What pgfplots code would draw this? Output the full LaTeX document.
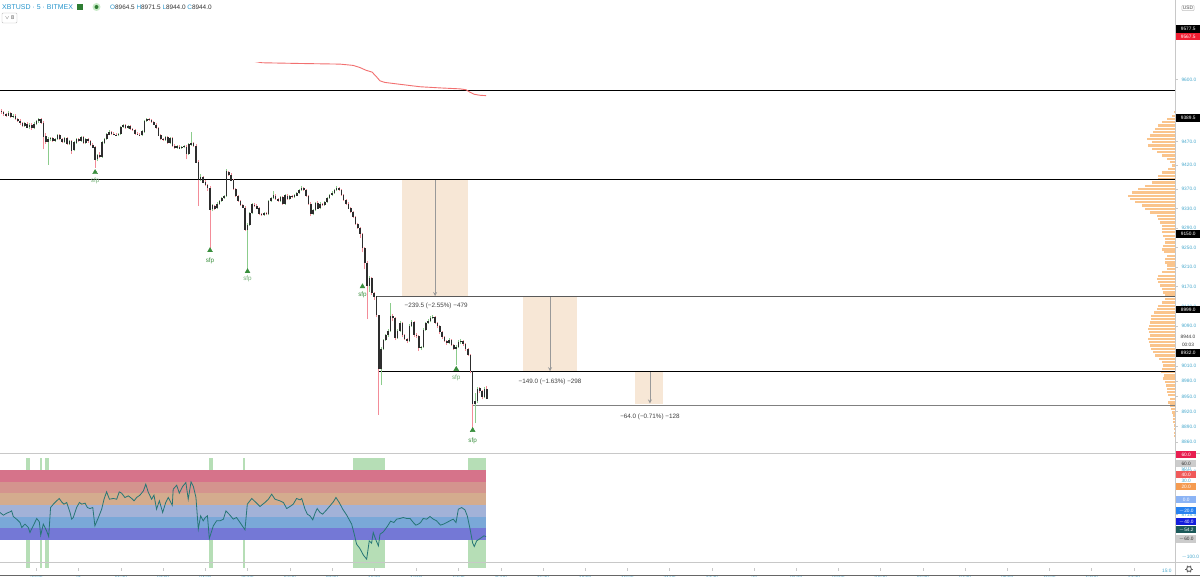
\documentclass[border=0pt]{standalone}
\usepackage{pgfplots}
\pgfplotsset{compat=1.18}
\usepackage{pgfplotstable}
\usepackage{fontspec}
\setmainfont{Liberation Sans}
\definecolor{tickc}{RGB}{70,168,205}
\definecolor{hdr}{RGB}{40,150,205}
\definecolor{wickr}{RGB}{243,140,152}
\definecolor{wickg}{RGB}{140,204,140}
\definecolor{bodyc}{RGB}{45,45,45}
\definecolor{sfpg}{RGB}{56,142,60}
\definecolor{boxc}{RGB}{247,231,214}
\definecolor{vpf}{RGB}{250,196,140}
\definecolor{vpd}{RGB}{246,172,104}
\definecolor{mac}{RGB}{242,112,112}
\definecolor{bA}{RGB}{214,115,138}
\definecolor{bB}{RGB}{212,148,142}
\definecolor{bC}{RGB}{212,172,142}
\definecolor{bD}{RGB}{162,178,216}
\definecolor{bE}{RGB}{122,168,216}
\definecolor{bF}{RGB}{116,120,214}
\definecolor{grn}{RGB}{182,222,182}
\definecolor{oscl}{RGB}{38,118,118}
\definecolor{sep}{RGB}{200,200,200}
\definecolor{dgreen}{RGB}{46,125,50}
\definecolor{lgreen}{RGB}{200,235,200}
\definecolor{lred}{RGB}{240,30,50}
\definecolor{oA}{RGB}{232,30,80}
\definecolor{oB}{RGB}{240,90,90}
\definecolor{oC}{RGB}{245,155,80}
\definecolor{oD}{RGB}{140,180,245}
\definecolor{oE}{RGB}{40,130,240}
\definecolor{oF}{RGB}{20,30,220}
\definecolor{oG}{RGB}{28,90,90}
\newcommand\tk{\fontsize{4.8}{5.5}\selectfont}
\newcommand\mk{\fontsize{6.3}{7}\selectfont}

\pgfplotsset{
  upc/.style={restrict expr to domain={\thisrow{c}-\thisrow{o}}{0:10000}},
  dnc/.style={restrict expr to domain={\thisrow{c}-\thisrow{o}}{-10000:-0.01}},
  pricey/.style={y coord trafo/.code={\pgfmathparse{(ln(##1)-9.1)*9150}},
                 y coord inv trafo/.code={\pgfmathparse{exp(##1/9150+9.1)}}},
}

\pgfplotstableread{
i o h l c
-15 9534 9537 9528 9531
-14 9531 9534 9524 9527
-13 9527 9530 9521 9524
-12 9524 9532 9522 9529
-11 9529 9531 9519 9521
-10 9521 9527 9518 9524
-9 9524 9526 9514 9517
-8 9517 9519 9510 9513
-7 9513 9516 9505 9508
-6 9508 9510 9500 9502
-5 9502 9510 9500 9507
-4 9507 9509 9497 9499
-3 9499 9507 9496 9505
-2 9505 9507 9494 9497
-1 9497 9509 9495 9506
0 9506 9514 9503 9512
1 9512 9519 9509 9516
2 9516 9518 9506 9509
3 9509 9511 9453 9481
4 9481 9486 9465 9468
5 9468 9478 9421 9474
6 9474 9479 9470 9476
7 9476 9478 9468 9471
8 9471 9477 9469 9475
9 9475 9484 9473 9482
10 9482 9484 9472 9474
11 9474 9476 9466 9469
12 9469 9478 9467 9476
13 9476 9478 9463 9465
14 9465 9472 9462 9470
15 9470 9472 9444 9451
16 9451 9470 9449 9467
17 9467 9476 9465 9474
18 9474 9476 9468 9471
19 9471 9480 9469 9478
20 9478 9480 9464 9466
21 9466 9476 9464 9474
22 9474 9477 9467 9470
23 9470 9472 9461 9463
24 9463 9465 9455 9457
25 9457 9459 9415 9432
26 9432 9443 9428 9440
27 9440 9446 9434 9437
28 9437 9470 9435 9467
29 9467 9477 9465 9475
30 9475 9486 9473 9484
31 9484 9492 9482 9490
32 9490 9492 9484 9486
33 9486 9489 9482 9484
34 9484 9486 9480 9482
35 9482 9487 9480 9485
36 9485 9502 9483 9500
37 9500 9506 9498 9503
38 9503 9505 9496 9498
39 9498 9504 9496 9502
40 9502 9504 9494 9496
41 9496 9498 9491 9493
42 9493 9495 9484 9486
43 9486 9488 9482 9484
44 9484 9486 9480 9482
45 9482 9492 9480 9490
46 9490 9514 9488 9512
47 9512 9519 9510 9516
48 9516 9518 9512 9514
49 9514 9516 9508 9510
50 9510 9512 9503 9505
51 9505 9507 9496 9498
52 9498 9500 9480 9482
53 9482 9484 9472 9474
54 9474 9476 9470 9472
55 9472 9481 9470 9478
56 9478 9480 9464 9466
57 9466 9478 9464 9476
58 9476 9478 9459 9461
59 9461 9463 9454 9456
60 9456 9461 9454 9459
61 9459 9461 9453 9455
62 9455 9459 9453 9457
63 9457 9461 9455 9459
64 9459 9461 9432 9443
65 9443 9465 9441 9463
66 9463 9489 9461 9466
67 9466 9468 9458 9460
68 9460 9462 9424 9426
69 9426 9428 9336 9390
70 9390 9400 9386 9396
71 9396 9398 9382 9384
72 9384 9388 9376 9378
73 9378 9380 9366 9372
74 9372 9374 9246 9328
75 9328 9338 9324 9336
76 9336 9338 9326 9330
77 9330 9342 9328 9340
78 9340 9348 9338 9346
79 9346 9354 9344 9352
80 9352 9358 9350 9356
81 9356 9410 9354 9406
82 9406 9408 9398 9400
83 9400 9402 9386 9388
84 9388 9390 9368 9370
85 9370 9372 9354 9356
86 9356 9358 9344 9346
87 9346 9348 9336 9338
88 9338 9340 9330 9332
89 9332 9334 9284 9286
90 9286 9300 9203 9296
91 9296 9322 9294 9320
92 9320 9340 9318 9338
93 9338 9341 9333 9336
94 9336 9338 9328 9330
95 9330 9332 9316 9318
96 9318 9320 9314 9316
97 9316 9322 9314 9320
98 9320 9322 9316 9318
99 9318 9347 9316 9345
100 9345 9354 9343 9352
101 9352 9366 9350 9357
102 9357 9359 9348 9350
103 9350 9352 9344 9346
104 9346 9355 9344 9353
105 9353 9355 9338 9340
106 9340 9359 9338 9357
107 9357 9359 9348 9350
108 9350 9357 9348 9355
109 9355 9357 9351 9353
110 9353 9359 9351 9357
111 9357 9364 9355 9362
112 9362 9370 9360 9368
113 9368 9376 9366 9372
114 9372 9374 9366 9368
115 9368 9370 9354 9356
116 9356 9358 9338 9340
117 9340 9342 9314 9318
118 9318 9328 9316 9326
119 9326 9344 9324 9342
120 9342 9344 9328 9330
121 9330 9342 9328 9340
122 9340 9342 9335 9337
123 9337 9345 9335 9343
124 9343 9354 9341 9352
125 9352 9360 9350 9358
126 9358 9365 9356 9363
127 9363 9370 9361 9368
128 9368 9376 9366 9372
129 9372 9374 9366 9368
130 9368 9370 9356 9358
131 9358 9360 9346 9348
132 9348 9350 9338 9340
133 9340 9342 9328 9330
134 9330 9332 9320 9322
135 9322 9324 9310 9312
136 9312 9314 9296 9298
137 9298 9300 9288 9290
138 9290 9292 9270 9278
139 9278 9280 9240 9248
140 9248 9250 9206 9218
141 9218 9222 9104 9172
142 9172 9192 9160 9188
143 9188 9190 9154 9158
144 9158 9160 9144 9150
145 9150 9152 9108 9112
146 9112 9114 8914 9004
147 9004 9050 8972 9045
148 9045 9064 9042 9062
149 9062 9075 9060 9072
150 9072 9084 9068 9080
151 9080 9138 9078 9110
152 9110 9114 9100 9106
153 9106 9108 9062 9066
154 9066 9084 9064 9080
155 9080 9100 9078 9096
156 9096 9098 9068 9072
157 9072 9074 9062 9064
158 9064 9066 9056 9060
159 9060 9094 9058 9090
160 9090 9102 9088 9098
161 9098 9100 9068 9072
162 9072 9076 9066 9070
163 9070 9072 9040 9046
164 9046 9050 9042 9048
165 9048 9086 9046 9082
166 9082 9098 9080 9096
167 9096 9104 9094 9100
168 9100 9110 9098 9106
169 9106 9112 9104 9108
170 9108 9110 9094 9096
171 9096 9098 9086 9090
172 9090 9092 9074 9078
173 9078 9080 9064 9068
174 9068 9070 9058 9060
175 9060 9062 9052 9056
176 9056 9066 9054 9062
177 9062 9064 9050 9052
178 9052 9054 9042 9044
179 9044 9052 9012 9048
180 9048 9062 9046 9058
181 9058 9064 9054 9060
182 9060 9062 9050 9054
183 9054 9056 9040 9044
184 9044 9046 9030 9032
185 9032 9034 8996 9000
186 9000 9002 8885 8934
187 8934 8958 8897 8940
188 8940 8970 8936 8966
189 8966 8968 8956 8960
190 8960 8962 8944 8948
191 8948 8968 8946 8964.5
192 8964.5 8971.5 8944 8944
}\candles

\pgfplotstableread{
p len
9532 0.7
9523 3.3
9516 8.3
9510 13.3
9503 16.7
9496 20
9489 21.7
9482 25
9475 28.3
9468 23.3
9461 26.7
9454 23.3
9447 18.3
9440 13.3
9433 8.3
9426 5
9419 3.3
9412 6.7
9405 13.3
9398 16.7
9391 16.7
9384 23.3
9377 30
9370 36.7
9363 43.3
9356 46.7
9349 45
9343 40
9336 33.3
9329 30
9322 25
9315 18.3
9308 16.7
9301 15
9294 13.3
9288 13.3
9281 13.3
9274 11.7
9267 10
9260 10
9253 11.7
9246 13.3
9240 10.7
9233 8.3
9226 10
9219 10
9213 8.3
9206 8.3
9199 13.3
9192 16.7
9185 18.3
9179 16.7
9172 15
9165 13.3
9158 11.7
9152 10
9145 10
9138 13.3
9131 16.7
9125 18.3
9118 21
9111 24
9104 24
9098 25
9091 26
9084 27
9078 26
9071 25
9064 27
9058 26
9051 25
9044 24
9038 22
9031 20
9024 16
9018 13
9011 12
9004 13
8998 14
8991 11
8985 12
8978 10
8971 9
8965 8
8958 8
8952 7
8945 5
8938 7
8932 5
8925 4
8918 3
8912 2.5
8905 2
8899 2
8892 1.5
8885 1
8878 1
8872 0.8
}\profile

\begin{document}
\begin{tikzpicture}[x=1pt,y=1pt]
\useasboundingbox (0,0) rectangle (1200,576);
\fill[white] (0,0) rectangle (1200,576);

% volume profile
\begin{axis}[at={(0,123)}, anchor=south west, scale only axis,
  width=1175pt, height=453pt, pricey, ymin=8717.4, ymax=9636.9,
  xmin=0, xmax=1175, x dir=reverse, hide axis, clip=true]
\addplot[draw=none, mark=none,
  error bars/.cd, x dir=plus, x explicit, error mark=none,
  error bar style={draw=vpf, line width=2.4pt}]
  table[x expr=0, y=p, x error plus=len] {\profile};
\end{axis}

% main price pane
\begin{axis}[at={(0,123)}, anchor=south west, scale only axis,
  width=1175pt, height=453pt, pricey, ymin=8717.4, ymax=9636.9,
  xmin=-15.565, xmax=485.5,
  axis line style={draw=none}, xtick=\empty,
  ytick={9600,9520,9470,9420,9370,9330,9290,9250,9210,9170,9130,9090,9050,9010,8980,8950,8920,8890,8860,8830,8802,8774.5,8746.5,8718.5},
  yticklabels={9600.0,9520.0,9470.0,9420.0,9370.0,9330.0,9290.0,9250.0,9210.0,9170.0,9130.0,9090.0,9050.0,9010.0,8980.0,8950.0,8920.0,8890.0,8860.0,8830.0,8802.0,8774.5,8746.5,8718.5},
  ytick pos=right, yticklabel pos=right, tick align=outside, major tick length=3pt,
  tick style={sep, line width=0.5pt},
  yticklabel style={font=\tk, text=tickc, xshift=0pt},
  clip=true]
% measure boxes
\fill[boxc] (axis cs:155.9,9389.5) rectangle (axis cs:184,9150);
\fill[boxc] (axis cs:207.5,9150) rectangle (axis cs:230.5,8999);
\fill[boxc] (axis cs:255.2,8999) rectangle (axis cs:267.2,8935);
\draw[gray!80, line width=0.8pt, -stealth] (axis cs:170,9389.5) -- (axis cs:170,9151);
\draw[gray!80, line width=0.8pt, -stealth] (axis cs:219,9150) -- (axis cs:219,9000);
\draw[gray!80, line width=0.8pt, -stealth] (axis cs:261.6,8999) -- (axis cs:261.6,8936);
% horizontal levels
\draw[black, line width=1.2pt] (axis cs:-16,9577.5) -- (axis cs:486,9577.5);
\draw[black, line width=1.2pt] (axis cs:-16,9389.5) -- (axis cs:486,9389.5);
\draw[black!65, line width=1.2pt] (axis cs:144.8,9150) -- (axis cs:486,9150);
\draw[black, line width=1.2pt] (axis cs:145.6,8999) -- (axis cs:486,8999);
\draw[black!50, line width=1.2pt] (axis cs:185.7,8932) -- (axis cs:486,8932);
% moving average
\addplot[mac, line width=0.9pt] coordinates {(90,9641) (96.2,9636) (112.4,9634.5) (129.4,9633) (135,9630.5) (137.9,9626) (140.5,9620) (143.1,9616) (144.8,9607) (146.5,9597.5) (148.6,9594) (155,9590) (163.5,9585) (172.1,9582.5) (180.6,9580.5) (183.2,9578.5) (184.9,9573) (186.6,9569) (189.1,9567) (191.7,9566)};
% wicks
\addplot[draw=none, mark=none, forget plot, upc,
  error bars/.cd, y dir=plus, y explicit, error mark=none,
  error bar style={draw=wickg, line width=0.9pt}]
  table[x=i, y=l, y error plus expr={\thisrow{h}-\thisrow{l}}] {\candles};
\addplot[draw=none, mark=none, forget plot, dnc,
  error bars/.cd, y dir=plus, y explicit, error mark=none,
  error bar style={draw=wickr, line width=0.9pt}]
  table[x=i, y=l, y error plus expr={\thisrow{h}-\thisrow{l}}] {\candles};
% bodies
\addplot[draw=none, mark=none, forget plot,
  error bars/.cd, y dir=both, y explicit, error mark=none,
  error bar style={draw=bodyc, line width=1.6pt}]
  table[x=i, y=o, y error plus expr={max(\thisrow{c}-\thisrow{o},0)}, y error minus expr={max(\thisrow{o}-\thisrow{c},0)}] {\candles};
% sfp markers
\addplot[only marks, mark=triangle*, mark size=2.8pt, color=sfpg] coordinates {(25,9405) (74,9244) (90,9201) (139,9170) (179,9004) (186,8883)};
\node[font=\mk, text=sfpg!70] at (axis cs:25,9388) {sfp};
\node[font=\mk, text=sfpg] at (axis cs:74,9223) {sfp};
\node[font=\mk, text=sfpg!70] at (axis cs:90,9186) {sfp};
\node[font=\mk, text=sfpg] at (axis cs:139,9154) {sfp};
\node[font=\mk, text=sfpg!70] at (axis cs:179,8986) {sfp};
\node[font=\mk, text=sfpg] at (axis cs:186,8863) {sfp};
% measure labels
\node[font=\mk, text=black!75] at (axis cs:170.4,9131) {−239.5 (−2.55\%) −479};
\node[font=\mk, text=black!75] at (axis cs:219,8978) {−149.0 (−1.63\%) −298};
\node[font=\mk, text=black!75] at (axis cs:261.6,8910) {−64.0 (−0.71\%) −128};
\end{axis}

% oscillator pane
\begin{axis}[at={(0,14)}, anchor=south west, scale only axis,
  width=1175pt, height=109pt, xmin=-15.565, xmax=485.5, ymin=-108, ymax=78.9,
  axis line style={draw=none}, ytick=\empty,
  xtick={0,18,...,468},
  xticklabels={22:30,21,01:30,03:00,04:30,06:00,07:30,09:00,10:30,12:00,13:30,15:00,16:30,18:00,19:30,21:00,22:30,22,01:30,03:00,04:30,06:00,07:30,09:00,10:30,12:00,13:30},
  xtick pos=bottom, tick align=outside, major tick length=3pt,
  tick style={sep, line width=0.5pt},
  xticklabel style={font=\tk, text=tickc, yshift=-2pt},
  clip=true]
\fill[grn] (axis cs:-4.5,-110) rectangle (axis cs:-2.8,80);
\fill[grn] (axis cs:1.5,-110) rectangle (axis cs:2.3,80);
\fill[grn] (axis cs:3.5,-110) rectangle (axis cs:5.5,80);
\fill[grn] (axis cs:73.4,-110) rectangle (axis cs:75.1,80);
\fill[grn] (axis cs:88.2,-110) rectangle (axis cs:89.1,80);
\fill[grn] (axis cs:135.1,-110) rectangle (axis cs:148.7,80);
\fill[grn] (axis cs:184.1,-110) rectangle (axis cs:191.7,80);
\fill[bA] (axis cs:-16,40) rectangle (axis cs:191.7,60);
\fill[bB] (axis cs:-16,20) rectangle (axis cs:191.7,40);
\fill[bC] (axis cs:-16,0) rectangle (axis cs:191.7,20);
\fill[bD] (axis cs:-16,-20) rectangle (axis cs:191.7,0);
\fill[bE] (axis cs:-16,-40) rectangle (axis cs:191.7,-20);
\fill[bF] (axis cs:-16,-60) rectangle (axis cs:191.7,-40);
\addplot[oscl, line width=0.8pt] coordinates {(-15.6,-13.1) (-14.1,-17.7) (-12.7,-14.3) (-11.3,-12.0) (-10.6,-10.3) (-9.9,-20.0) (-8.5,-24.5) (-7.0,-30.3) (-6.3,-38.8) (-4.9,-33.1) (-3.5,-38.8) (-2.8,-47.4) (-1.4,-36.0) (0.1,-23.4) (1.2,-29.1) (1.8,-52.0) (2.9,-33.1) (4.3,-44.5) (5.2,-54.3) (6.0,-4.6) (7.2,1.2) (8.6,6.9) (9.7,10.9) (10.7,5.2) (11.7,1.2) (12.9,4.0) (14.3,-13.1) (15.0,-24.5) (15.7,-21.7) (17.1,-4.6) (18.3,4.0) (19.3,1.2) (20.7,2.9) (21.7,-4.6) (22.8,-6.3) (24.0,-4.6) (24.9,-36.0) (26.4,-21.7) (27.8,-7.4) (28.8,9.7) (29.9,22.3) (31.1,9.7) (32.8,10.9) (34.2,9.7) (35.3,22.3) (36.3,20.0) (37.7,12.6) (39.2,15.4) (40.6,10.9) (41.6,6.9) (42.7,12.6) (44.1,16.6) (45.6,24.0) (46.6,35.4) (47.7,21.2) (49.1,9.7) (50.1,16.6) (51.2,-7.4) (52.4,6.9) (53.8,-13.1) (55.1,4.0) (56.2,12.6) (57.9,-0.6) (58.3,26.9) (59.8,33.7) (60.9,20.0) (62.3,31.4) (63.7,38.3) (64.7,9.7) (65.9,39.4) (66.9,31.4) (68.0,12.6) (69.0,-41.7) (70.0,-18.8) (71.1,-27.4) (72.0,-21.7) (72.9,-18.8) (73.7,-57.7) (75.4,-36.0) (76.8,-27.4) (78.3,-27.4) (79.7,-24.5) (80.8,-10.3) (82.5,-17.7) (83.9,-24.5) (85.3,-21.7) (86.8,-30.3) (88.9,-42.8) (89.9,1.2) (91.8,10.9) (93.6,4.0) (95.3,-2.8) (97.4,4.0) (98.9,9.7) (100.3,18.3) (101.7,9.7) (103.8,6.9) (105.3,4.0) (106.7,-6.3) (108.1,-2.8) (109.5,1.2) (110.9,10.9) (112.4,8.6) (113.1,10.9) (114.5,-7.4) (115.5,-16.0) (116.6,-18.8) (117.8,-25.7) (118.8,-14.3) (119.7,-6.3) (120.9,-13.1) (122.0,-16.0) (123.7,-8.6) (125.4,-0.6) (126.6,5.2) (127.7,12.6) (129.1,4.0) (130.6,-7.4) (132.3,-17.7) (134.4,-33.1) (135.4,-48.5) (136.5,-67.4) (137.9,-74.8) (139.4,-86.2) (140.8,-93.1) (141.9,-61.7) (142.9,-65.7) (143.6,-47.4) (144.6,-58.8) (145.8,-70.3) (146.5,-50.3) (147.9,-46.3) (149.6,-37.1) (151.0,-28.0) (152.4,-30.3) (153.6,-24.5) (155.0,-23.4) (156.4,-21.7) (157.9,-23.4) (159.3,-23.4) (160.7,-30.3) (161.8,-34.8) (162.8,-33.1) (163.8,-30.3) (164.9,-23.4) (166.4,-24.5) (167.8,-20.0) (169.2,-24.5) (170.6,-27.4) (172.3,-34.8) (173.5,-33.1) (174.9,-30.3) (176.3,-27.4) (177.7,-24.5) (178.9,-30.3) (179.9,-7.4) (181.3,-4.6) (182.7,-8.6) (183.7,-18.8) (184.9,-41.7) (186.0,-65.7) (186.7,-71.4) (187.7,-61.7) (188.8,-58.8) (189.8,-56.0) (190.8,-53.1) (191.7,-54.3)};
\end{axis}

% separators
\draw[sep, line width=0.8pt] (0,123) -- (1200,123);
\draw[sep, line width=0.8pt] (0,14) -- (1200,14);
\draw[sep, line width=0.8pt] (1175,0) -- (1175,576);
\draw[black!60, line width=0.8pt] (0,0.4) -- (1200,0.4);

% right price labels
\tikzset{plab/.style={font=\tk, inner sep=0pt, minimum width=24pt, minimum height=7.5pt, anchor=west}}
\node[plab, fill=black, text=white] at (1176,547) {9577.5};
\node[plab, fill=lred, text=white] at (1176,539.5) {9567.5};
\node[plab, fill=black, text=white] at (1176,458) {9389.5};
\node[plab, fill=black, text=white] at (1176,342) {9150.0};
\node[plab, fill=black, text=white] at (1176,266.5) {8999.0};
\node[plab, fill=white, text=black!80, minimum height=16pt] at (1176,235) {};
\node[font=\tk, text=black!80] at (1188,239) {8944.0};
\node[font=\tk, text=black!80] at (1188,231) {00:03};
\node[plab, fill=black, text=white] at (1176,223) {8932.0};
\node[font=\tk, text=black!70, draw=black!25, rounded corners=1pt, inner sep=1pt] at (1188,568) {USD};

% oscillator labels
\tikzset{olab/.style={font=\tk, inner sep=0pt, minimum width=20pt, minimum height=7pt, anchor=west}}
\node[font=\tk, text=tickc, anchor=west] at (1178,107.5) {50.0};
\node[font=\tk, text=tickc, anchor=west] at (1178,95.5) {30.0};
\node[olab, fill=oA, text=white] at (1176,121) {60.0};
\node[olab, fill=black!20, text=black!80] at (1176,112) {60.0};
\node[olab, fill=oB, text=white] at (1176,101) {40.0};
\node[olab, fill=oC, text=white] at (1176,89) {20.0};
\node[olab, fill=oD, text=white] at (1176,76) {0.0};
\node[olab, fill=oE, text=white] at (1176,65) {$-$20.0};
\node[olab, fill=oF, text=white] at (1176,54) {$-$40.0};
\node[olab, fill=oG, text=white] at (1176,46) {$-$54.2};
\node[olab, fill=black!20, text=black!80] at (1176,37) {$-$60.0};
\node[font=\tk, text=tickc, anchor=west] at (1178,19) {$-$100.0};
\node[font=\tk, text=tickc, anchor=east] at (1175,5) {15:0};
\draw[black!60, line width=0.9pt] (1189,7) circle (2.4pt);
\foreach \a in {0,60,...,300} \draw[black!60, line width=1pt] (1189,7) ++(\a:2.4pt) -- ++(\a:1.3pt);

% header
\node[font=\fontsize{7}{8}\selectfont, text=hdr, anchor=west, inner sep=0pt] at (2,569) {XBTUSD · 5 · BITMEX};
\fill[dgreen] (77,566) rectangle (82.5,571.5);
\fill[lgreen] (96.5,569) circle (4pt);
\fill[dgreen] (96.5,569) circle (2pt);
\node[font=\fontsize{6.4}{7.5}\selectfont, text=black!80, anchor=west, inner sep=0pt] at (110,569) {\textcolor{hdr}{O}8964.5 \textcolor{hdr}{H}8971.5 \textcolor{hdr}{L}8944.0 \textcolor{hdr}{C}8944.0};
\draw[black!25, rounded corners=1pt] (2,553) rectangle (17,563);
\node[font=\fontsize{5.5}{6}\selectfont, text=black!70, inner sep=0pt] at (9.5,558) {$\vee$ 8};
\end{tikzpicture}
\end{document}
